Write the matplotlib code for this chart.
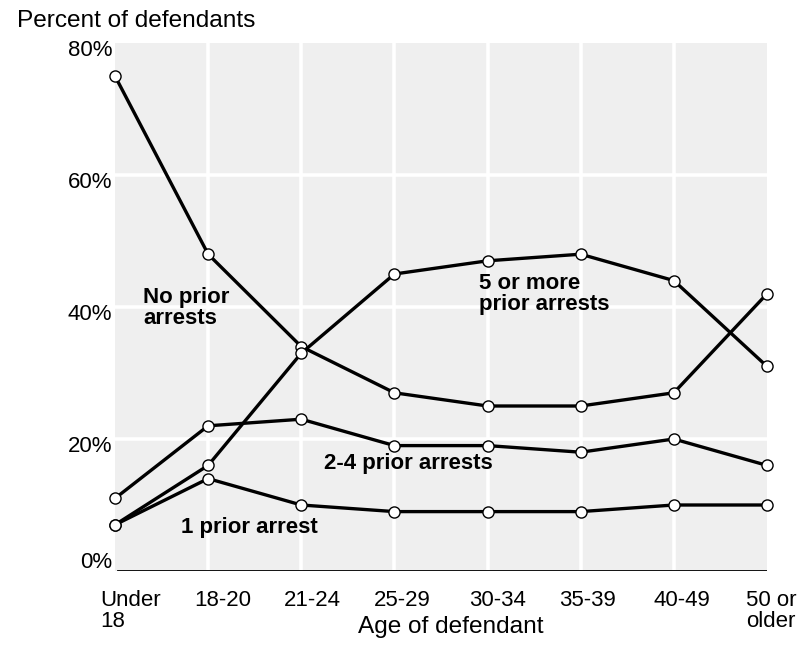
import matplotlib
matplotlib.use("Agg")
import matplotlib.pyplot as plt
from matplotlib.transforms import ScaledTranslation

categories = ["Under\n18", "18-20", "21-24", "25-29", "30-34", "35-39", "40-49", "50 or\nolder"]
no_prior = [75, 48, 34, 27, 25, 25, 27, 42]
one_prior = [7, 14, 10, 9, 9, 9, 10, 10]
two_four = [11, 22, 23, 19, 19, 18, 20, 16]
five_plus = [7, 16, 33, 45, 47, 48, 44, 31]
y_ticks = [0, 20, 40, 60, 80]
y_labels = ["0%", "20%", "40%", "60%", "80%"]

plt.rcParams['font.family'] = ['Liberation Sans', 'DejaVu Sans']
FS = 16
FS_TITLE = 17.6
XLABEL_SHIFT_PX = [-15, -14, -17, -21, -18, -22, -20, -21]

fig = plt.figure(figsize=(7.99, 6.58), dpi=100)
ax = fig.add_axes([115/799, 1 - 571/658, (767 - 115)/799, (571 - 43)/658])
ax.set_facecolor('#efefef')
for s in ax.spines.values():
    s.set_visible(False)

x = list(range(len(categories)))
ax.set_xlim(0, len(categories) - 1)
ax.set_ylim(0, 80)

# grid
for xi in x[1:-1]:
    ax.axvline(xi, color='white', lw=2.6, zorder=1)
for yt in y_ticks[1:-1]:
    ax.axhline(yt, color='white', lw=2.6, zorder=1)
ax.axhline(0, color='black', lw=1.3, zorder=2, xmin=3/652)

style = dict(color='black', lw=2.4, marker='o', markersize=8,
             markerfacecolor='white', markeredgecolor='black', markeredgewidth=1.0,
             zorder=3, clip_on=False)
ax.plot(x, one_prior, **style)
ax.plot(x, two_four, **style)
ax.plot(x, no_prior, **style)
ax.plot(x, five_plus, **style)

# ticks
ax.set_xticks(x)
ax.set_xticklabels(categories, fontsize=FS, ha='left', va='top', linespacing=1.0)
ax.tick_params(axis='x', length=0, pad=14)
for lab, sh in zip(ax.get_xticklabels(), XLABEL_SHIFT_PX):
    lab.set_transform(lab.get_transform() + ScaledTranslation(sh/100, 0, fig.dpi_scale_trans))

ax.set_yticks(y_ticks)
ax.set_yticklabels(y_labels, fontsize=FS)
ax.tick_params(axis='y', length=0, pad=2)
for lab, yt in zip(ax.get_yticklabels(), y_ticks):
    dy = -5/100 if yt != 0 else 11/100
    lab.set_transform(lab.get_transform() + ScaledTranslation(0, dy, fig.dpi_scale_trans))

# series labels
def px2data(px, py):
    return (px - 115) / ((767 - 115) / 7), (571 - py) / 6.6

bold = dict(fontsize=FS, fontweight='bold', ha='left', va='baseline', linespacing=1.0, zorder=4)
tx, ty = px2data(143, 324)
ax.text(tx, ty, "No prior\narrests", **bold)
tx, ty = px2data(479, 310)
ax.text(tx, ty, "5 or more\nprior arrests", **bold)
tx, ty = px2data(324, 469)
ax.text(tx, ty, "2-4 prior arrests", **bold)
tx, ty = px2data(181, 533)
ax.text(tx, ty, "1 prior arrest", **bold)

fig.text(17/799, 1 - 26.7/658, "Percent of defendants", fontsize=FS_TITLE, ha='left', va='baseline')
fig.text(451/799, 1 - 632.7/658, "Age of defendant", fontsize=FS_TITLE, ha='center', va='baseline')

fig.savefig("out.png", dpi=100)
